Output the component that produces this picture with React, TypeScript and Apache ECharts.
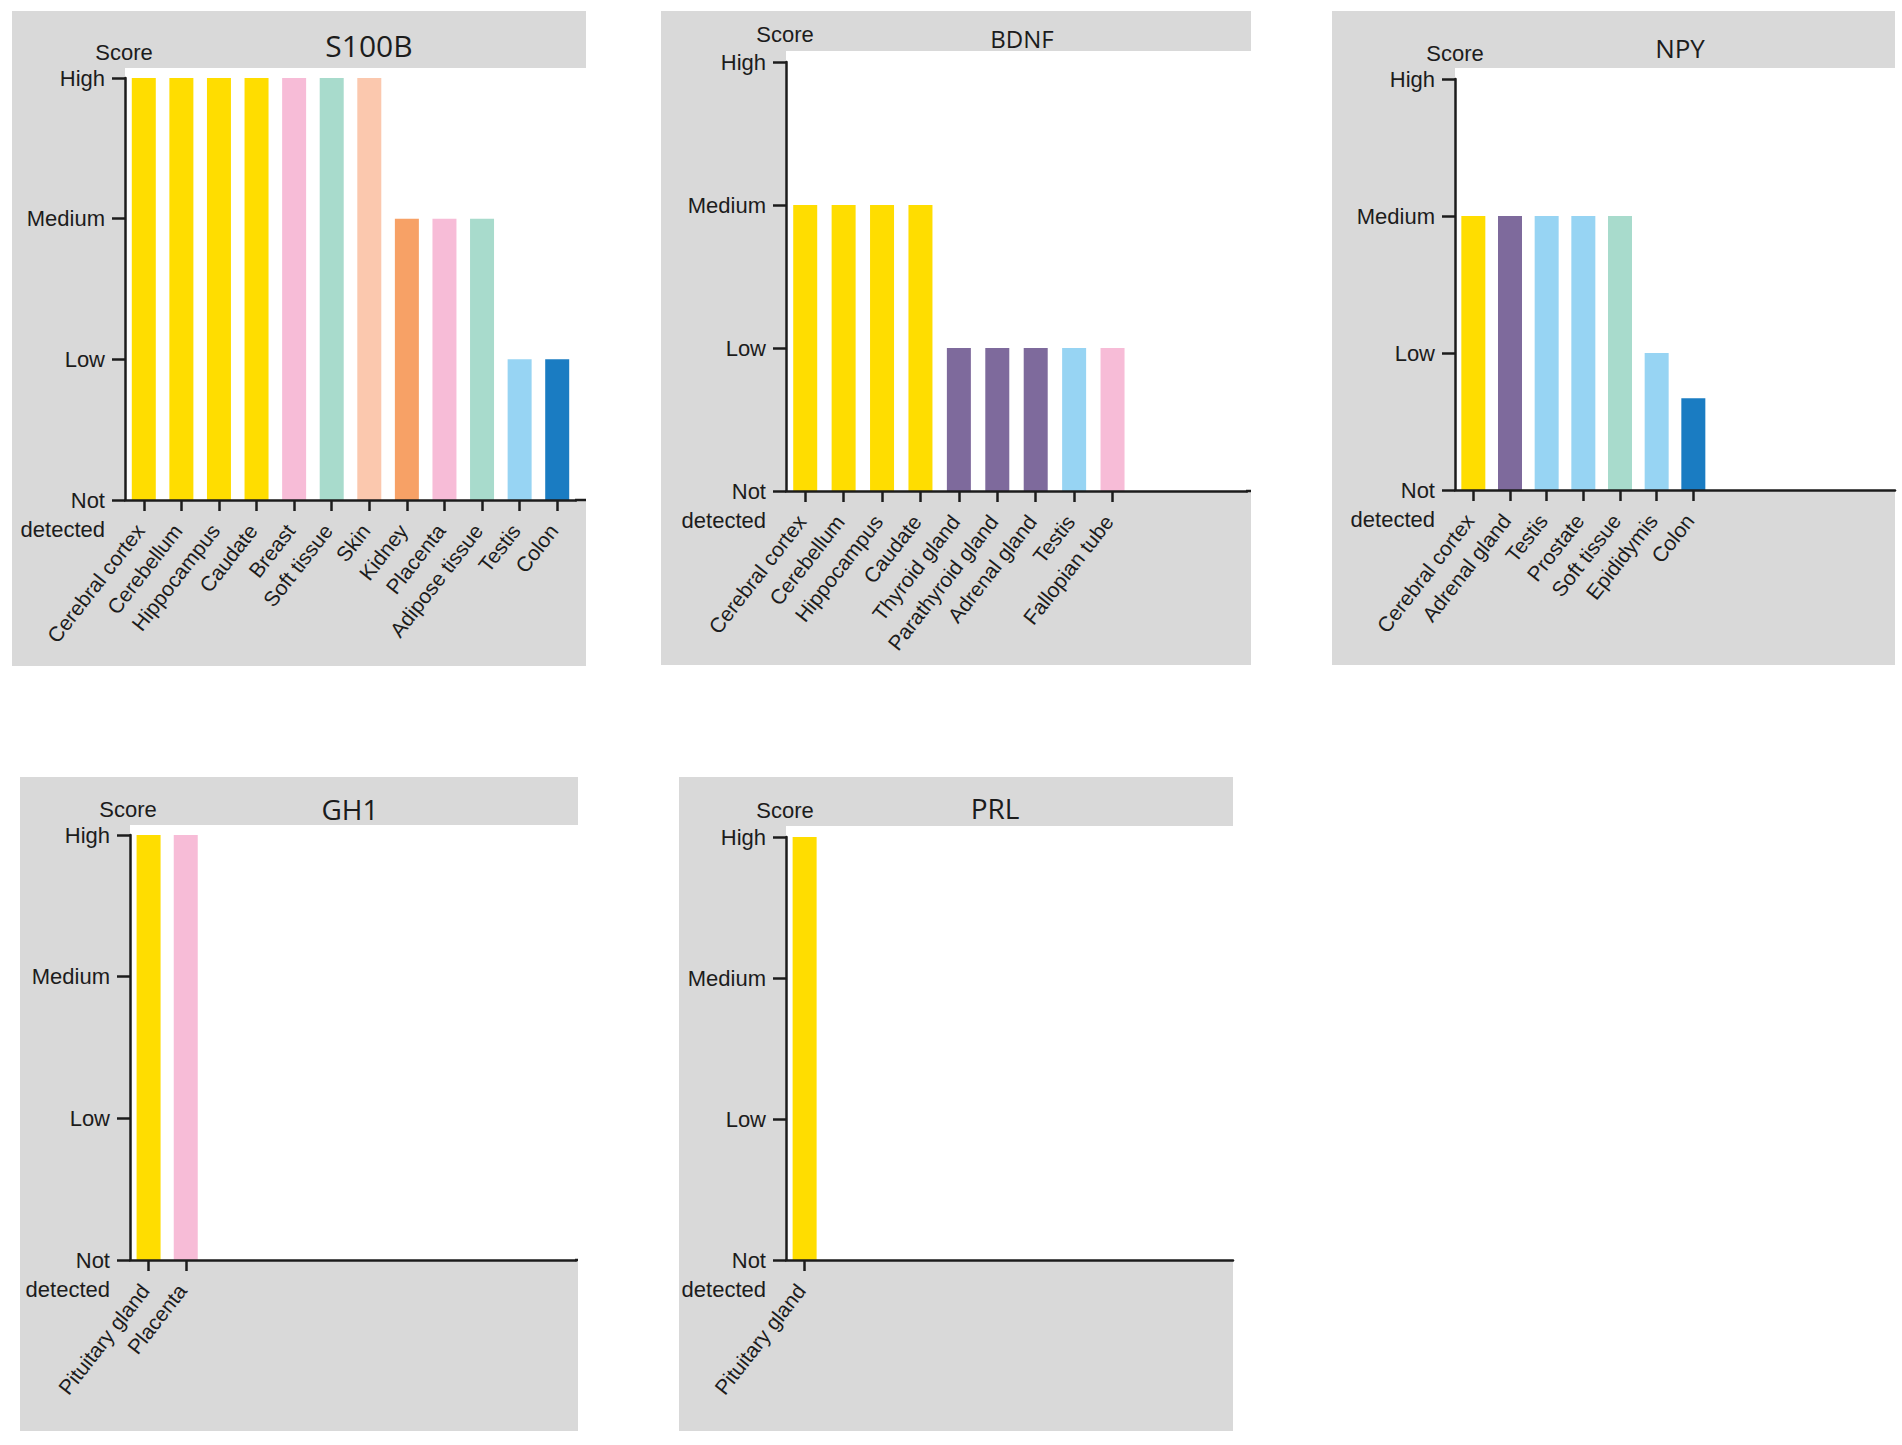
import React, { useEffect, useRef } from "react";
import * as echarts from "echarts";

// ---------- data ----------
const SCORE_LEVELS = ["Not detected", "Low", "Medium", "High"];

const s100bTissues = ["Cerebral cortex", "Cerebellum", "Hippocampus", "Caudate", "Breast", "Soft tissue", "Skin", "Kidney", "Placenta", "Adipose tissue", "Testis", "Colon"];
const s100bScores = [3, 3, 3, 3, 3, 3, 3, 2, 2, 2, 1, 1];

const bdnfTissues = ["Cerebral cortex", "Cerebellum", "Hippocampus", "Caudate", "Thyroid gland", "Parathyroid gland", "Adrenal gland", "Testis", "Fallopian tube"];
const bdnfScores = [2, 2, 2, 2, 1, 1, 1, 1, 1];

const npyTissues = ["Cerebral cortex", "Adrenal gland", "Testis", "Prostate", "Soft tissue", "Epididymis", "Colon"];
const npyScores = [2, 2, 2, 2, 2, 1, 0.67];

const gh1Tissues = ["Pituitary gland", "Placenta"];
const gh1Scores = [3, 3];

const prlTissues = ["Pituitary gland"];
const prlScores = [3];

const SLOTS = 12;

// ---------- styles ----------
const YELLOW = "#FFDD00";
const PINK = "#F7BCD7";
const MINT = "#A8DBCC";
const PEACH = "#FBC8AE";
const ORANGE = "#F7A166";
const LIGHTBLUE = "#97D4F3";
const DARKBLUE = "#1A7CC2";
const PURPLE = "#7E6A9C";

const TISSUE_COLOR: Record<string, string> = {
  "Cerebral cortex": YELLOW,
  Cerebellum: YELLOW,
  Hippocampus: YELLOW,
  Caudate: YELLOW,
  "Pituitary gland": YELLOW,
  Breast: PINK,
  Placenta: PINK,
  "Fallopian tube": PINK,
  "Soft tissue": MINT,
  "Adipose tissue": MINT,
  Skin: PEACH,
  Kidney: ORANGE,
  Testis: LIGHTBLUE,
  Prostate: LIGHTBLUE,
  Epididymis: LIGHTBLUE,
  Colon: DARKBLUE,
  "Thyroid gland": PURPLE,
  "Parathyroid gland": PURPLE,
  "Adrenal gland": PURPLE,
};

const TEXT = "#1c1c1c";
const GREY = "#D9D9D9";
const FONT = "'Liberation Sans', Arial, sans-serif";
const TITLE_FONT = "'Open Sans', 'Noto Sans', sans-serif";
const LABEL_SIZE = 22;
const XLABEL_SIZE = 21;

type Panel = {
  title: string;
  tissues: string[];
  scores: number[];
  box: [number, number, number, number]; // grey panel x0,y0,x1,y1
  whiteTop: number;
  axisX: number;
  highY: number;
  zeroY: number;
  gridW: number;
  titlePos: [number, number];
  titleSize: number;
  scorePos: [number, number];
};

const panels: Panel[] = [
  {
    title: "S100B", tissues: s100bTissues, scores: s100bScores,
    box: [12, 11, 586, 666], whiteTop: 68, axisX: 125, highY: 78, zeroY: 500, gridW: 451,
    titlePos: [369, 45], titleSize: 30, scorePos: [124, 52],
  },
  {
    title: "BDNF", tissues: bdnfTissues, scores: bdnfScores,
    box: [661, 11, 1251, 665], whiteTop: 51, axisX: 786, highY: 62, zeroY: 491, gridW: 461,
    titlePos: [1022, 38], titleSize: 24, scorePos: [785, 34],
  },
  {
    title: "NPY", tissues: npyTissues, scores: npyScores,
    box: [1332, 11, 1895, 665], whiteTop: 68, axisX: 1455, highY: 79, zeroY: 490, gridW: 440,
    titlePos: [1680, 48], titleSize: 26, scorePos: [1455, 53],
  },
  {
    title: "GH1", tissues: gh1Tissues, scores: gh1Scores,
    box: [20, 777, 578, 1431], whiteTop: 825, axisX: 130, highY: 835, zeroY: 1260, gridW: 446,
    titlePos: [350, 809], titleSize: 28, scorePos: [128, 809],
  },
  {
    title: "PRL", tissues: prlTissues, scores: prlScores,
    box: [679, 777, 1233, 1431], whiteTop: 826, axisX: 786, highY: 837, zeroY: 1260, gridW: 447,
    titlePos: [995, 808], titleSize: 28, scorePos: [785, 810],
  },
];

function buildOption() {
  const grid: any[] = [];
  const xAxis: any[] = [];
  const yAxis: any[] = [];
  const series: any[] = [];
  const graphic: any[] = [];

  panels.forEach((p, i) => {
    const [x0, y0, x1, y1] = p.box;
    graphic.push({
      type: "rect", z: -20, silent: true,
      shape: { x: x0, y: y0, width: x1 - x0, height: y1 - y0 },
      style: { fill: GREY },
    });
    graphic.push({
      type: "rect", z: -10, silent: true,
      shape: { x: p.axisX, y: p.whiteTop, width: x1 - p.axisX, height: p.zeroY - p.whiteTop },
      style: { fill: "#FFFFFF" },
    });
    if (p.axisX + p.gridW < x1) {
      graphic.push({
        type: "line", z: 10, silent: true,
        shape: { x1: p.axisX + p.gridW - 1, y1: p.zeroY, x2: x1, y2: p.zeroY },
        style: { stroke: TEXT, lineWidth: 2.5 },
      });
    }
    graphic.push({
      type: "text", z: 10, silent: true,
      x: p.titlePos[0], y: p.titlePos[1],
      style: { text: p.title, fill: TEXT, font: `${p.titleSize}px ${TITLE_FONT}`, textAlign: "center", textVerticalAlign: "middle" },
    });
    graphic.push({
      type: "text", z: 10, silent: true,
      x: p.scorePos[0], y: p.scorePos[1],
      style: { text: "Score", fill: TEXT, font: `${LABEL_SIZE}px ${FONT}`, textAlign: "center", textVerticalAlign: "middle" },
    });

    grid.push({
      left: p.axisX, top: p.highY, width: p.gridW, height: p.zeroY - p.highY,
      containLabel: false,
    });

    const cats = [...p.tissues];
    while (cats.length < SLOTS) cats.push("");

    xAxis.push({
      type: "category", gridIndex: i, data: cats, z: 5,
      axisLine: { show: true, lineStyle: { color: TEXT, width: 2.5 } },
      axisTick: {
        show: true, alignWithLabel: true, length: 11,
        interval: (idx: number, val: string) => val !== "",
        lineStyle: { color: TEXT, width: 2.5 },
      },
      axisLabel: {
        interval: 0, rotate: 52, margin: 22, padding: [0, 6, 0, 0],
        color: TEXT, fontSize: XLABEL_SIZE, fontFamily: FONT,
      },
      splitLine: { show: false },
    });

    yAxis.push({
      type: "value", gridIndex: i, min: 0, max: 3, interval: 1, z: 5,
      axisLine: { show: true, lineStyle: { color: TEXT, width: 2.5 } },
      axisTick: { show: true, length: 13, lineStyle: { color: TEXT, width: 2.5 } },
      axisLabel: {
        margin: 20, color: TEXT, fontSize: LABEL_SIZE, fontFamily: FONT, lineHeight: 29,
        formatter: (v: number) => (v === 0 ? " \nNot\ndetected" : SCORE_LEVELS[v] ?? ""),
      },
      splitLine: { show: false },
    });

    series.push({
      type: "bar", xAxisIndex: i, yAxisIndex: i, barWidth: 24,
      data: p.scores.map((v, k) => ({ value: v, itemStyle: { color: TISSUE_COLOR[p.tissues[k]] } })),
      silent: true,
    });
  });

  return {
    animation: false,
    backgroundColor: "#FFFFFF",
    grid, xAxis, yAxis, series, graphic,
  };
}

export default function App() {
  const ref = useRef<HTMLDivElement>(null);
  useEffect(() => {
    if (!ref.current) return;
    const chart = echarts.init(ref.current, undefined, { renderer: "svg" });
    chart.setOption(buildOption() as any);
    return () => chart.dispose();
  }, []);
  return (
    <div
      ref={ref}
      style={{ position: "absolute", left: 0, top: 0, width: 1902, height: 1445 }}
    />
  );
}
